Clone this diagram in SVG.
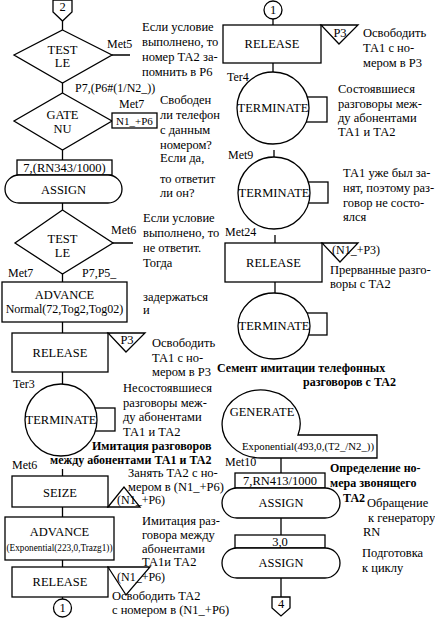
<svg xmlns="http://www.w3.org/2000/svg" width="435" height="620" viewBox="0 0 435 620">
<style>
.s{fill:none;stroke:#000;stroke-width:1.3}
.w{fill:#fff;stroke:#000;stroke-width:1.3}
text{font-family:"Liberation Serif","Times New Roman",serif;fill:#000}
.b{font-size:12.5px;text-anchor:middle}
.c{font-size:12.5px}
.l{font-size:12px}
.m{font-size:11px}
.h{font-size:12px;font-weight:bold}
</style>
<rect width="435" height="620" fill="#fff"/>
<g id="connectors" class="s">
<path d="M62.5 21V30M62.5 83V93M112 55H130M62.5 150V160M62.5 203V210M113 243H133M62.5 274V282M62.5 322V333M62.5 372V384M62.5 469V476M62.5 507V517M62.5 560V567M62.5 597V599"/>
<path d="M273 19V25M273 63V72M274 150V157M275 235V243M275 282V293M281 458V473M281 518V535M281 578V597"/>
</g>
<g id="n_conn2"><path class="w" d="M53 0H72V12L62.5 21L53 12Z"/><text class="b" x="62.5" y="11">2</text></g>
<g id="n_test1"><path class="w" d="M62.5 30L112 55L62.5 83L14 55Z"/><text class="b" x="62.5" y="54">TEST</text><text class="b" x="62.5" y="67">LE</text><text class="l" x="107" y="48">Met5</text><text class="l" x="75" y="92">P7,(P6#(1/N2_))</text></g>
<g id="t_test1"><text class="c" x="142" y="31">Если условие</text><text class="c" x="142" y="46">выполнено, то</text><text class="c" x="142" y="61">номер ТА2 за-</text><text class="c" x="142" y="76">помнить в Р6</text></g>
<g id="n_gate"><path class="w" d="M62.5 93L112 121L62.5 150L14 121Z"/><text class="b" x="62.5" y="119">GATE</text><text class="b" x="62.5" y="133">NU</text><rect class="w" x="112" y="113" width="45" height="15"/><text class="m" x="134.5" y="124.5" text-anchor="middle">N1_+P6</text><text class="l" x="119" y="108">Met7</text></g>
<g id="t_gate"><text class="c" x="160" y="104">Свободен</text><text class="c" x="160" y="119">ли телефон</text><text class="c" x="160" y="134">с данным</text><text class="c" x="160" y="149">номером?</text><text class="c" x="160" y="162">Если да,</text><text class="c" x="160" y="183">то ответит</text><text class="c" x="160" y="197">ли он?</text></g>
<g id="n_assign1"><rect class="w" x="17" y="160" width="95" height="15"/><text class="b" x="64.5" y="172">7,(RN343/1000)</text><rect class="w" x="5" y="175" width="117" height="28" rx="14"/><text class="b" x="63.5" y="194">ASSIGN</text></g>
<g id="n_test2"><path class="w" d="M62.5 210L113 243L62.5 274L15 243Z"/><text class="b" x="62.5" y="243">TEST</text><text class="b" x="62.5" y="257">LE</text><text class="l" x="111" y="234">Met6</text><text class="l" x="8" y="277">Met7</text><text class="l" x="82" y="277">P7,P5_</text></g>
<g id="t_test2"><text class="c" x="143" y="222">Если условие</text><text class="c" x="143" y="237">выполнено, то</text><text class="c" x="143" y="252">не ответит.</text><text class="c" x="143" y="267">Тогда</text></g>
<g id="n_advance1"><rect class="w" x="2" y="282" width="125" height="40"/><text class="b" x="64.5" y="299">ADVANCE</text><text class="l" x="64.5" y="313" text-anchor="middle">Normal(72,Tog2,Tog02)</text></g>
<g id="t_advance1"><text class="c" x="143" y="301">задержаться</text><text class="c" x="143" y="314">и</text></g>
<g id="n_release1"><rect class="w" x="12" y="333" width="96" height="39"/><text class="b" x="60" y="357">RELEASE</text><path class="w" d="M108 333H145L126 352Z"/><text class="b" x="127" y="344">P3</text></g>
<g id="t_release1"><text class="c" x="152" y="347">Освободить</text><text class="c" x="152" y="362">ТА1 с но-</text><text class="c" x="152" y="376">мером в Р3</text></g>
<g id="n_term3"><text class="l" x="13" y="388">Ter3</text><rect class="s" x="90" y="408" width="25" height="23"/><circle class="w" cx="61" cy="420" r="36"/><text class="b" x="61" y="424">TERMINATE</text></g>
<g id="t_term3"><text class="c" x="123" y="392">Несостоявшиеся</text><text class="c" x="123" y="407">разговоры меж-</text><text class="c" x="123" y="421">ду абонентами</text><text class="c" x="123" y="436">ТА1 и ТА2</text></g>
<g id="t_title1"><text class="h" x="92" y="450">Имитация разговоров</text><text class="h" x="50" y="464">между абонентами ТА1 и ТА2</text></g>
<g id="n_seize"><text class="l" x="12" y="469">Met6</text><rect class="w" x="12" y="476" width="96" height="31"/><text class="b" x="60" y="497">SEIZE</text><path class="w" d="M108 507L124 487L140 507Z"/><text class="l" x="117" y="504">(N1_+P6)</text></g>
<g id="t_seize"><text class="c" x="128" y="477">Занять ТА2 с но-</text><text class="c" x="128" y="491">мером в (N1_+P6)</text></g>
<g id="n_advance2"><rect class="w" x="5" y="517" width="109" height="43"/><text class="b" x="59.5" y="536">ADVANCE</text><text class="m" x="59.5" y="551" text-anchor="middle" textLength="106" lengthAdjust="spacingAndGlyphs">(Exponential(223,0,Trazg1))</text></g>
<g id="t_advance2"><text class="c" x="142" y="525">Имитация раз-</text><text class="c" x="142" y="539">говора  между</text><text class="c" x="142" y="553">абонентами</text><text class="c" x="142" y="566">ТА1и ТА2</text></g>
<g id="n_release2"><rect class="w" x="12" y="567" width="96" height="30"/><text class="b" x="60" y="586">RELEASE</text><path class="w" d="M108 567H150L126 595Z"/><text class="l" x="117" y="581">(N1_+P6)</text></g>
<g id="t_release2"><text class="c" x="112" y="600">Освободить ТА2</text><text class="c" x="112" y="614">с номером в (N1_+P6)</text></g>
<g id="n_conn1a"><circle class="w" cx="62.5" cy="608" r="9"/><text class="b" x="62.5" y="612">1</text></g>
<g id="n_conn1b"><circle class="w" cx="273" cy="10" r="9"/><text class="b" x="273" y="14">1</text></g>
<g id="n_release3"><rect class="w" x="223" y="25" width="98" height="38"/><text class="b" x="272" y="48">RELEASE</text><path class="w" d="M321 25H358L339 44Z"/><text class="b" x="340" y="37">P3</text></g>
<g id="t_release3"><text class="c" x="363" y="37">Освободить</text><text class="c" x="363" y="52">ТА1 с но-</text><text class="c" x="363" y="67">мером в Р3</text></g>
<g id="n_term4"><text class="l" x="227" y="81">Ter4</text><rect class="s" x="300" y="97" width="27" height="25"/><circle class="w" cx="273" cy="108" r="36"/><text class="b" x="273" y="112">TERMINATE</text></g>
<g id="t_term4"><text class="c" x="338" y="93">Состоявшиеся</text><text class="c" x="338" y="108">разговоры меж-</text><text class="c" x="338" y="122">ду абонентами</text><text class="c" x="338" y="136">ТА1 и ТА2</text></g>
<g id="n_term9"><text class="l" x="228" y="159">Met9</text><rect class="s" x="300" y="182" width="28" height="21"/><circle class="w" cx="274" cy="193" r="36"/><text class="b" x="274" y="197">TERMINATE</text></g>
<g id="t_term9"><text class="c" x="343" y="177">ТА1 уже был за-</text><text class="c" x="343" y="192">нят, поэтому раз-</text><text class="c" x="343" y="207">говор не состо-</text><text class="c" x="343" y="221">ялся</text></g>
<g id="n_release4"><text class="l" x="225" y="236">Met24</text><rect class="w" x="225" y="243" width="97" height="39"/><text class="b" x="273.5" y="267">RELEASE</text><path class="w" d="M322 243H358L340 262Z"/><text class="l" x="332" y="254">(N1_+P3)</text></g>
<g id="t_release4"><text class="c" x="330" y="274">Прерванные разго-</text><text class="c" x="330" y="288">воры с ТА2</text></g>
<g id="n_term24"><rect class="s" x="300" y="313" width="27" height="22"/><ellipse class="w" cx="274" cy="326" rx="36" ry="33"/><text class="b" x="274" y="330">TERMINATE</text></g>
<g id="t_title2"><text class="h" x="217" y="372">Семент имитации телефонных</text><text class="h" x="303" y="386">разговоров с ТА2</text></g>
<g id="n_generate"><path class="w" d="M261 458A39 34 0 1 1 298 435H377V458Z"/><text class="b" x="262" y="416">GENERATE</text><text class="m" x="242" y="450" textLength="132" lengthAdjust="spacingAndGlyphs">Exponential(493,0,(T2_/N2_))</text></g>
<g id="n_assign2"><text class="l" x="225" y="466">Met10</text><rect class="w" x="235" y="473" width="90" height="15"/><text class="b" x="280" y="485">7,RN413/1000</text><rect class="w" x="222" y="488" width="118" height="30" rx="15"/><text class="b" x="281" y="507">ASSIGN</text></g>
<g id="t_assign2"><text class="h" x="330" y="472">Определение но-</text><text class="h" x="330" y="487">мера звонящего</text><text class="h" x="343" y="502">ТА2</text><text class="c" x="367" y="507">Обращение</text><text class="c" x="368" y="522"> к генератору</text><text class="c" x="363" y="536">RN</text></g>
<g id="n_assign3"><rect class="w" x="235" y="535" width="90" height="13"/><text class="b" x="280" y="546">3,0</text><rect class="w" x="222" y="548" width="118" height="30" rx="15"/><text class="b" x="281" y="567">ASSIGN</text></g>
<g id="t_assign3"><text class="c" x="362" y="557">Подготовка</text><text class="c" x="362" y="572">к циклу</text></g>
<g id="n_conn4"><path class="w" d="M272 597H290V608L281 616L272 608Z"/><text class="b" x="281" y="608">4</text></g>
</svg>
